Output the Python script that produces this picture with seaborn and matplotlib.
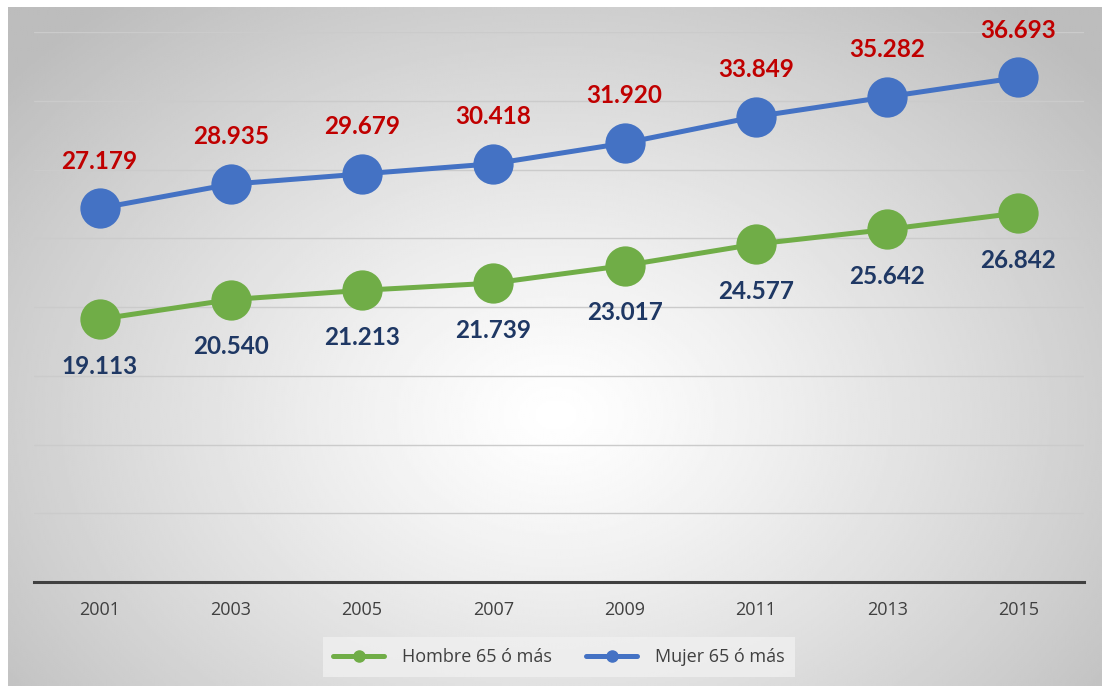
import numpy as np
import pandas as pd
import matplotlib
matplotlib.use("Agg")
import matplotlib.pyplot as plt
import seaborn as sns

years = ["2001", "2003", "2005", "2007", "2009", "2011", "2013", "2015"]
hombre = [19.113, 20.540, 21.213, 21.739, 23.017, 24.577, 25.642, 26.842]
mujer = [27.179, 28.935, 29.679, 30.418, 31.920, 33.849, 35.282, 36.693]
series_names = ["Hombre 65 ó más", "Mujer 65 ó más"]

sns.set_theme(style="white")
plt.rcParams['font.family'] = ['Open Sans', 'DejaVu Sans']

W, H = 1102, 686
fig = plt.figure(figsize=(W / 100, H / 100), dpi=100)
fig.patch.set_facecolor("white")

# radial gradient background
bg = fig.add_axes([8 / W, 0, 1 - 8 / W, 1 - 7 / H], zorder=0)
ny, nx = 340, 550
yy, xx = np.mgrid[0:ny, 0:nx]
cx, cy = nx * 0.5, ny * 0.6
d = np.sqrt(((xx - cx) / (nx * 0.5)) ** 2 + ((yy - cy) / (ny * 0.6)) ** 2)
d = np.clip(d / 1.3, 0, 1)
val = 1.0 - 0.26 * d ** 1.2
bg.imshow(val, cmap="gray", vmin=0, vmax=1, aspect="auto", interpolation="bilinear")
bg.set_axis_off()

ax = fig.add_axes([34 / W, 1 - 582 / H, (1084 - 34) / W, (582 - 32) / H], zorder=1)
ax.patch.set_alpha(0)

df = pd.DataFrame({
    "year": list(range(len(years))) * 2,
    "value": hombre + mujer,
    "serie": [series_names[0]] * len(years) + [series_names[1]] * len(years),
})
palette = {series_names[0]: "#70AD47", series_names[1]: "#4472C4"}
sns.lineplot(data=df, x="year", y="value", hue="serie", palette=palette,
             marker="o", markersize=29, linewidth=3.6, markeredgewidth=0,
             ax=ax, legend=False, zorder=3)

ax.set_xlim(-0.5, len(years) - 0.5)
ax.set_ylim(0, 40)
ax.set_yticks(np.arange(5, 41, 5))
ax.yaxis.grid(True, color="#cbcbcb", linewidth=1)
ax.set_yticklabels([])
ax.tick_params(axis="y", length=0)
ax.set_xticks(range(len(years)))
ax.set_xticklabels(years, fontsize=13, color="#404040")
ax.tick_params(axis="x", length=0, pad=14)
ax.set_xlabel("")
ax.set_ylabel("")
for s in ["top", "right", "left"]:
    ax.spines[s].set_visible(False)
ax.spines["bottom"].set_color("#404040")
ax.spines["bottom"].set_linewidth(2.2)

for i, v in enumerate(mujer):
    ax.annotate(f"{v:.3f}", (i, v), xytext=(0, 34), textcoords="offset points",
                ha="center", va="center", fontsize=17.5, fontweight="bold",
                color="#C00000", family=["Lato", "DejaVu Sans"])
for i, v in enumerate(hombre):
    ax.annotate(f"{v:.3f}", (i, v), xytext=(0, -34), textcoords="offset points",
                ha="center", va="center", fontsize=17.5, fontweight="bold",
                color="#1F3864", family=["Lato", "DejaVu Sans"])

from matplotlib.lines import Line2D
handles = [Line2D([0], [0], color=palette[n], lw=3.6, marker="o", markersize=8)
           for n in series_names]
leg = fig.legend(handles, series_names, loc="center", bbox_to_anchor=(559 / W, 1 - 657 / H),
                 ncol=2, frameon=True, fontsize=13, handlelength=2.8, columnspacing=1.9,
                 handletextpad=1.0, labelcolor="#404040", borderpad=0.6)
leg.get_frame().set_facecolor("#f0f0f0")
leg.get_frame().set_edgecolor("none")
leg.get_frame().set_alpha(0.8)
leg.get_frame().set_boxstyle("square", pad=0)

fig.savefig("out.png", dpi=100)
